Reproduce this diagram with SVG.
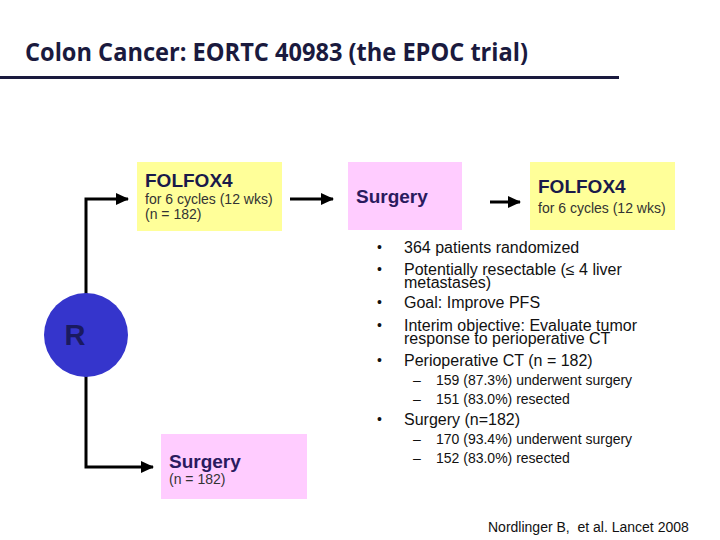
<svg xmlns="http://www.w3.org/2000/svg" width="720" height="540" viewBox="0 0 720 540">
<style>
.t{font-family:"Liberation Sans",Arial,sans-serif}
.hd{font-weight:bold;fill:#1a1a4a}
.sg{font-weight:bold;fill:#2a1a5e}
.sm{font-size:14px;fill:#333}
.bl{font-size:16px;fill:#111}
.sb{font-size:14px;fill:#111}
.conn{stroke:#000;stroke-width:3;fill:none}
</style>
<defs>
<marker id="ah" markerUnits="userSpaceOnUse" markerWidth="14" markerHeight="14" viewBox="0 0 14 14" refX="12" refY="7" orient="auto">
<path d="M0,1 L13,7 L0,13 Z" fill="#000"/>
</marker>
</defs>
<rect width="720" height="540" fill="#fff"/>
<g id="title">
<text x="25" y="61" font-family="'Open Sans','Noto Sans',sans-serif" font-weight="bold" font-size="25" fill="#1a1a3e" textLength="503" lengthAdjust="spacingAndGlyphs">Colon Cancer: EORTC 40983 (the EPOC trial)</text>
<rect x="0" y="76" width="619" height="3" fill="#1a1a3e"/>
</g>
<g id="connectors">
<path class="conn" d="M86,335 L86,199 L128,199" marker-end="url(#ah)"/>
<path class="conn" d="M86,335 L86,467 L153,467" marker-end="url(#ah)"/>
<line class="conn" x1="290" y1="199" x2="333" y2="199" marker-end="url(#ah)"/>
<line class="conn" x1="490" y1="202" x2="520" y2="202" marker-end="url(#ah)"/>
</g>
<g id="folfox4-a">
<rect x="137" y="162" width="145" height="69" fill="#ffff99"/>
<text class="t hd" x="145" y="187" font-size="19">FOLFOX4</text>
<text class="t sm" x="145" y="204">for 6 cycles (12 wks)</text>
<text class="t sm" x="145" y="219">(n = 182)</text>
</g>
<g id="surgery-a">
<rect x="348" y="162" width="114" height="68" fill="#ffccff"/>
<text class="t sg" x="356" y="203" font-size="19">Surgery</text>
</g>
<g id="folfox4-b">
<rect x="530" y="162" width="145" height="68" fill="#ffff99"/>
<text class="t hd" x="538" y="193" font-size="19">FOLFOX4</text>
<text class="t sm" x="538" y="213">for 6 cycles (12 wks)</text>
</g>
<g id="randomize">
<circle cx="86" cy="335" r="42" fill="#3535cc"/>
<text class="t" x="75" y="345" font-size="29" font-weight="bold" fill="#1a1a60" text-anchor="middle">R</text>
</g>
<g id="surgery-b">
<rect x="161" y="434" width="146" height="65" fill="#ffccff"/>
<text class="t sg" x="169" y="468" font-size="19">Surgery</text>
<text class="t sm" x="169" y="484">(n = 182)</text>
</g>
<g id="bullets" class="t">
<g font-size="14" fill="#111">
<text x="377" y="252">•</text>
<text x="377" y="274">•</text>
<text x="377" y="307">•</text>
<text x="377" y="330">•</text>
<text x="377" y="365">•</text>
<text x="377" y="424">•</text>
</g>
<text class="bl" x="404" y="253">364 patients randomized</text>
<text class="bl" x="404" y="275">Potentially resectable (≤ 4 liver</text>
<text class="bl" x="404" y="288">metastases)</text>
<text class="bl" x="404" y="308">Goal: Improve PFS</text>
<text class="bl" x="404" y="331">Interim objective: Evaluate tumor</text>
<text class="bl" x="404" y="344">response to perioperative CT</text>
<text class="bl" x="404" y="366">Perioperative CT (n = 182)</text>
<text class="sb" x="413" y="385">–</text>
<text class="sb" x="436" y="385">159 (87.3%) underwent surgery</text>
<text class="sb" x="413" y="404">–</text>
<text class="sb" x="436" y="404">151 (83.0%) resected</text>
<text class="bl" x="404" y="425">Surgery (n=182)</text>
<text class="sb" x="413" y="444">–</text>
<text class="sb" x="436" y="444">170 (93.4%) underwent surgery</text>
<text class="sb" x="413" y="463">–</text>
<text class="sb" x="436" y="463">152 (83.0%) resected</text>
</g>
<g id="citation">
<text class="t" x="488" y="532" font-size="14" fill="#111">Nordlinger B,&#160; et al. Lancet 2008</text>
</g>
</svg>
